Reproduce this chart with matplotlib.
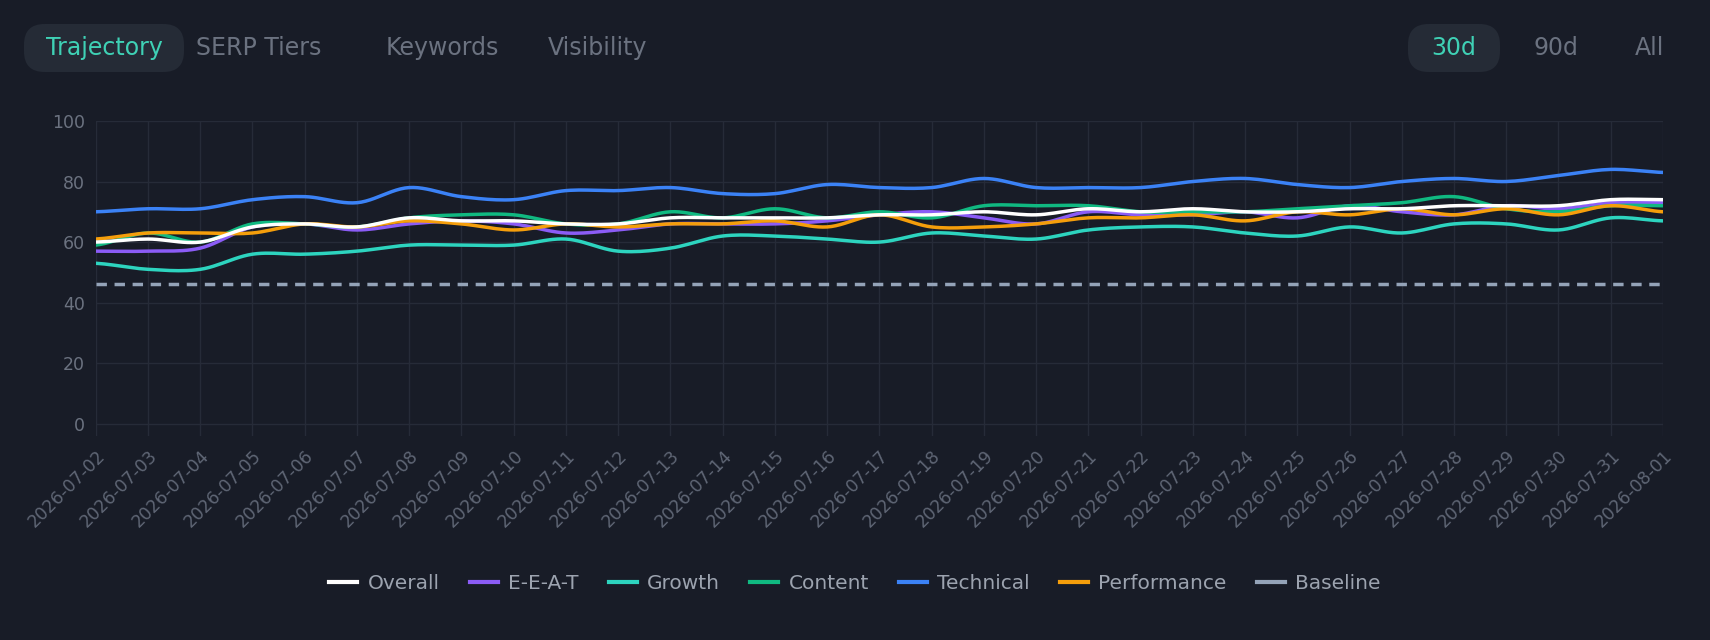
import numpy as np
import matplotlib
matplotlib.use("Agg")
import matplotlib.pyplot as plt
from matplotlib.patches import FancyBboxPatch
from matplotlib.lines import Line2D

dates = [f"2026-07-{d:02d}" for d in range(2, 32)] + ["2026-08-01"]
technical = [70,71,71,74,75,73,78,75,74,77,77,78,76,76,79,78,78,81,78,78,78,80,81,79,78,80,81,80,82,84,83]
overall = [60,61,60,65,66,65,68,67,67,66,66,68,68,68,68,69,69,70,69,71,70,71,70,70,71,71,72,72,72,74,74]
eeat = [57,57,58,65,66,64,66,67,66,63,64,66,66,66,67,69,70,68,66,70,69,69,70,68,72,70,69,72,71,73,73]
growth = [53,51,51,56,56,57,59,59,59,61,57,58,62,62,61,60,63,62,61,64,65,65,63,62,65,63,66,66,64,68,67]
content = [59,63,60,66,66,65,68,69,69,66,66,70,68,71,68,70,68,72,72,72,70,70,70,71,72,73,75,71,70,72,72]
performance = [61,63,63,63,66,65,67,66,64,66,65,66,66,67,65,69,65,65,66,68,68,69,67,70,69,71,69,71,69,72,70]
baseline = 46

BG = "#181c27"
fig = plt.figure(figsize=(17.1, 6.4), dpi=100, facecolor=BG)
ax = fig.add_axes([0.056, 0.319, 0.9165, 0.492], facecolor=BG)

def smooth(y, n=12):
    y = np.asarray(y, float)
    p = np.concatenate([[y[0]], y, [y[-1]]])
    xs, ys = [], []
    for i in range(len(y) - 1):
        p0, p1, p2, p3 = p[i], p[i+1], p[i+2], p[i+3]
        t = np.linspace(0, 1, n, endpoint=False)
        v = 0.5*((2*p1) + (-p0+p2)*t + (2*p0-5*p1+4*p2-p3)*t**2 + (-p0+3*p1-3*p2+p3)*t**3)
        xs.append(i + t); ys.append(v)
    xs.append([len(y)-1]); ys.append([y[-1]])
    return np.concatenate(xs), np.concatenate(ys)

series = [("Overall", overall, "#ffffff"), ("E-E-A-T", eeat, "#8b5cf6"),
          ("Growth", growth, "#2dd4bf"), ("Content", content, "#10b981"),
          ("Technical", technical, "#3b82f6"), ("Performance", performance, "#f59e0b")]
handles = []
for name, vals, c in series:
    xs, ys = smooth(vals)
    ax.plot(xs, ys, color=c, lw=2.5, zorder=3 if name != "Overall" else 4)
    handles.append(Line2D([], [], color=c, lw=3, label=name))
ax.plot([0, len(dates)-1], [baseline, baseline], color="#94a3b8", lw=2.5, ls=(0, (3, 2.2)))
handles.append(Line2D([], [], color="#94a3b8", lw=3, label="Baseline"))

ax.set_xlim(0, len(dates)-1)
ax.set_ylim(-4, 100)
ax.set_yticks([0, 20, 40, 60, 80, 100])
ax.set_xticks(range(len(dates)))
ax.set_xticklabels(dates, rotation=45, ha="right", rotation_mode="anchor")
ax.grid(color="#262b38", lw=1)
for s in ax.spines.values():
    s.set_visible(False)
ax.tick_params(colors="#6b7280", labelsize=12.5, length=0, pad=8)
for t in ax.get_xticklabels():
    t.set_color("#5f6675")

fig.legend(handles=handles, loc="center", bbox_to_anchor=(0.5, 0.088), ncol=7, frameon=False,
           fontsize=14.5, labelcolor="#9ca3af", handlelength=1.4, handletextpad=0.5, columnspacing=1.5)

def tab(x, y, w, h, active):
    if active:
        fig.patches.append(FancyBboxPatch((x/1710, 1-(y+h)/640), w/1710, h/640,
            boxstyle="round,pad=0,rounding_size=0.012", transform=fig.transFigure,
            facecolor="#252b36", edgecolor="none", mutation_aspect=2.67))
tab(24, 24, 160, 48, True)
tab(1408, 24, 92, 48, True)
tabs = [("Trajectory", 104, True), ("SERP Tiers", 259, False), ("Keywords", 442, False), ("Visibility", 598, False),
        ("30d", 1454, True), ("90d", 1556, False), ("All", 1649, False)]
for label, x, act in tabs:
    fig.text(x/1710, 1-48/640, label, ha="center", va="center", fontsize=17,
             color="#3fd1b5" if act else "#6b7280")

fig.savefig("out.png", facecolor=BG)
